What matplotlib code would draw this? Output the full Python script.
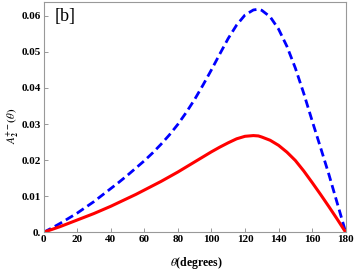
import matplotlib
matplotlib.use('Agg')
import matplotlib.pyplot as plt

# angle values (degrees) and the two curves
theta = [0, 5, 10, 15, 20, 25, 30, 35, 40, 45, 50, 55, 60, 65, 70, 75, 80, 85,
         90, 95, 100, 105, 110, 115, 120, 125, 128, 130, 135, 140, 145, 150,
         155, 160, 165, 170, 175, 180]
blue_dashed = [0, 0.0012, 0.0025, 0.0039, 0.0053, 0.0069, 0.0085, 0.0103,
               0.0121, 0.0139, 0.0158, 0.0178, 0.0198, 0.0220, 0.0244, 0.0270,
               0.0299, 0.0332, 0.0368, 0.0408, 0.0450, 0.0494, 0.0537, 0.0574,
               0.0602, 0.0616, 0.0618, 0.0615, 0.0597, 0.0563, 0.0515, 0.0455,
               0.0385, 0.0309, 0.0235, 0.0160, 0.0080, 0]
red_solid = [0, 0.0008, 0.0016, 0.0025, 0.0034, 0.0043, 0.0052, 0.0062,
             0.0072, 0.0083, 0.0094, 0.0105, 0.0117, 0.0129, 0.0141, 0.0154,
             0.0167, 0.0181, 0.0195, 0.0209, 0.0223, 0.0236, 0.0248, 0.0259,
             0.0266, 0.0268, 0.0267, 0.0264, 0.0255, 0.0241, 0.0222, 0.0199,
             0.0170, 0.0138, 0.0105, 0.0071, 0.0036, 0]

xticks = [0, 20, 40, 60, 80, 100, 120, 140, 160, 180]
yticks = [0, 0.01, 0.02, 0.03, 0.04, 0.05, 0.06]
ytick_labels = ['0.', '0.01', '0.02', '0.03', '0.04', '0.05', '0.06']

plt.rcParams['font.family'] = ['Liberation Serif', 'DejaVu Serif']
plt.rcParams['mathtext.fontset'] = 'stix'

fig = plt.figure(figsize=(3.54, 2.73), dpi=100)
ax = fig.add_axes([0.1229, 0.149, 0.8537, 0.8436])

ax.plot(theta, blue_dashed, color='#0000ff', lw=2.0, ls=(0, (3, 1.6)))
ax.plot(theta, red_solid, color='#ff0000', lw=2.2)

ax.set_xlim(0, 180)
ax.set_ylim(0, 0.0638)
ax.set_xticks(xticks)
ax.set_xticklabels([str(t) for t in xticks], fontweight='bold', fontsize=8)
ax.set_yticks(yticks)
ax.set_yticklabels(ytick_labels, fontweight='bold', fontsize=8)
ax.tick_params(direction='in', length=3, width=0.6, color='#888888', pad=2)

for s in ax.spines.values():
    s.set_color('#999999')
    s.set_linewidth(0.8)

ax.text(6.5, 0.0598, '[b]', fontsize=13, va='center', ha='left')

fig.text(0.554, 0.035, r'$\theta$(degrees)', fontsize=8.5, fontweight='bold',
         ha='center', va='center')
fig.text(0.035, 0.54, r'$\mathbf{\mathit{A}}_{\mathbf{2}}^{\mathbf{+-}}\mathbf{(\mathit{\theta})}$',
         fontsize=8, rotation=90, ha='center', va='center')

fig.savefig('out.png', dpi=100)
